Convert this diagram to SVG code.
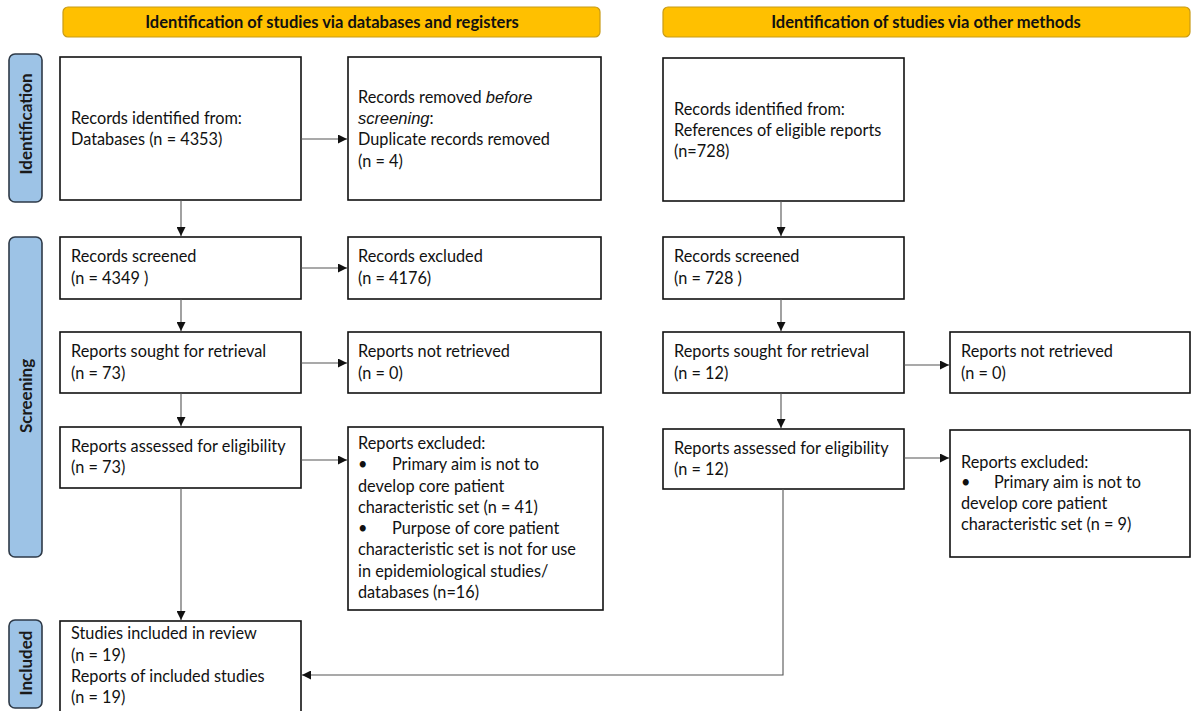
<svg xmlns="http://www.w3.org/2000/svg" width="1191" height="711" viewBox="0 0 1191 711">
<defs>
<style>
.hdr{fill:#FFC000;stroke:#C89B16;stroke-width:1.2}
.hdrt{font-family:Lato,"Open Sans",sans-serif;font-weight:bold;font-size:16.5px;fill:#111;text-anchor:middle}
.side{fill:#9DC3E6;stroke:#2E3A48;stroke-width:1.6}
.sidet{font-family:Lato,"Open Sans",sans-serif;font-weight:bold;font-size:17px;fill:#1a1a1a;text-anchor:middle}
.box{fill:#fff;stroke:#111;stroke-width:1.6}
.t{font-family:Lato,"Open Sans",sans-serif;font-size:16.3px;fill:#111}
.it{font-family:"Liberation Sans",Arial,sans-serif;font-style:italic;font-size:16.5px}
.c{fill:none;stroke:#555;stroke-width:1.1}
</style>
<marker id="ah" viewBox="0 0 10 10" refX="10" refY="5" markerWidth="9" markerHeight="9" markerUnits="userSpaceOnUse" orient="auto">
<path d="M0,0 L10,5 L0,10 z" fill="#111"/>
</marker>
</defs>

<g id="header-left"><rect class="hdr" x="63" y="7" width="537" height="30" rx="5"/><text class="hdrt" x="332" y="27.5">Identification of studies via databases and registers</text></g>
<g id="header-right"><rect class="hdr" x="663" y="7" width="527" height="30" rx="5"/><text class="hdrt" x="926" y="27.5">Identification of studies via other methods</text></g>

<g id="side-identification"><rect class="side" x="9" y="54" width="33" height="148" rx="6"/><text class="sidet" transform="translate(31.5,124) rotate(-90)">Identification</text></g>
<g id="side-screening"><rect class="side" x="9" y="237" width="33" height="320" rx="6"/><text class="sidet" transform="translate(31.5,396) rotate(-90)">Screening</text></g>
<g id="side-included"><rect class="side" x="9" y="620" width="33" height="88" rx="6"/><text class="sidet" transform="translate(31.5,663) rotate(-90)">Included</text></g>

<g id="db-identified"><rect class="box" x="60" y="57" width="241" height="143"/><text class="t" x="71"><tspan x="71" y="124">Records identified from:</tspan><tspan x="71" y="145">Databases (n = 4353)</tspan></text></g>
<g id="db-removed"><rect class="box" x="348" y="57" width="253" height="143"/><text class="t"><tspan x="358" y="103">Records removed <tspan class="it">before</tspan></tspan><tspan x="358" y="124"><tspan class="it">screening</tspan>:</tspan><tspan x="358" y="145">Duplicate records removed</tspan><tspan x="358" y="167">(n = 4)</tspan></text></g>
<g id="db-screened"><rect class="box" x="60" y="237" width="241" height="62"/><text class="t"><tspan x="71" y="262">Records screened</tspan><tspan x="71" y="284">(n = 4349 )</tspan></text></g>
<g id="db-excluded"><rect class="box" x="348" y="237" width="253" height="62"/><text class="t"><tspan x="358" y="262">Records excluded</tspan><tspan x="358" y="284">(n = 4176)</tspan></text></g>
<g id="db-sought"><rect class="box" x="60" y="332" width="241" height="61"/><text class="t"><tspan x="71" y="357">Reports sought for retrieval</tspan><tspan x="71" y="379">(n = 73)</tspan></text></g>
<g id="db-notretrieved"><rect class="box" x="348" y="332" width="253" height="61"/><text class="t"><tspan x="358" y="357">Reports not retrieved</tspan><tspan x="358" y="379">(n = 0)</tspan></text></g>
<g id="db-assessed"><rect class="box" x="60" y="427" width="241" height="61"/><text class="t"><tspan x="71" y="452">Reports assessed for eligibility</tspan><tspan x="71" y="473">(n = 73)</tspan></text></g>
<g id="db-reports-excluded"><rect class="box" x="348" y="427" width="255" height="183"/><text class="t"><tspan x="358" y="449">Reports excluded:</tspan><tspan x="358" y="470">•</tspan><tspan x="392" y="470">Primary aim is not to</tspan><tspan x="358" y="492">develop core patient</tspan><tspan x="358" y="513">characteristic set (n = 41)</tspan><tspan x="358" y="534">•</tspan><tspan x="392" y="534">Purpose of core patient</tspan><tspan x="358" y="555">characteristic set is not for use</tspan><tspan x="358" y="577">in epidemiological studies/</tspan><tspan x="358" y="598">databases (n=16)</tspan></text></g>
<g id="included"><rect class="box" x="60" y="621" width="241" height="95"/><text class="t"><tspan x="71" y="639">Studies included in review</tspan><tspan x="71" y="661">(n = 19)</tspan><tspan x="71" y="682">Reports of included studies</tspan><tspan x="71" y="703">(n = 19)</tspan></text></g>

<g id="om-identified"><rect class="box" x="663" y="58" width="241" height="143"/><text class="t"><tspan x="674" y="115">Records identified from:</tspan><tspan x="674" y="136">References of eligible reports</tspan><tspan x="674" y="157">(n=728)</tspan></text></g>
<g id="om-screened"><rect class="box" x="663" y="237" width="241" height="62"/><text class="t"><tspan x="674" y="262">Records screened</tspan><tspan x="674" y="284">(n = 728 )</tspan></text></g>
<g id="om-sought"><rect class="box" x="663" y="332" width="241" height="61"/><text class="t"><tspan x="674" y="357">Reports sought for retrieval</tspan><tspan x="674" y="379">(n = 12)</tspan></text></g>
<g id="om-notretrieved"><rect class="box" x="950" y="332" width="240" height="61"/><text class="t"><tspan x="961" y="357">Reports not retrieved</tspan><tspan x="961" y="379">(n = 0)</tspan></text></g>
<g id="om-assessed"><rect class="box" x="663" y="429" width="241" height="60"/><text class="t"><tspan x="674" y="454">Reports assessed for eligibility</tspan><tspan x="674" y="475">(n = 12)</tspan></text></g>
<g id="om-reports-excluded"><rect class="box" x="950" y="430" width="240" height="127"/><text class="t"><tspan x="961" y="468">Reports excluded:</tspan><tspan x="961" y="488">•</tspan><tspan x="994" y="488">Primary aim is not to</tspan><tspan x="961" y="509">develop core patient</tspan><tspan x="961" y="530">characteristic set (n = 9)</tspan></text></g>

<g id="connectors">
<line class="c" x1="301" y1="139" x2="347" y2="139" marker-end="url(#ah)"/>
<line class="c" x1="181" y1="200" x2="181" y2="236" marker-end="url(#ah)"/>
<line class="c" x1="301" y1="268" x2="347" y2="268" marker-end="url(#ah)"/>
<line class="c" x1="181" y1="299" x2="181" y2="331" marker-end="url(#ah)"/>
<line class="c" x1="301" y1="363" x2="347" y2="363" marker-end="url(#ah)"/>
<line class="c" x1="181" y1="393" x2="181" y2="426" marker-end="url(#ah)"/>
<line class="c" x1="301" y1="460" x2="347" y2="460" marker-end="url(#ah)"/>
<line class="c" x1="181" y1="488" x2="181" y2="620" marker-end="url(#ah)"/>
<line class="c" x1="781" y1="201" x2="781" y2="236" marker-end="url(#ah)"/>
<line class="c" x1="781" y1="299" x2="781" y2="331" marker-end="url(#ah)"/>
<line class="c" x1="904" y1="365" x2="949" y2="365" marker-end="url(#ah)"/>
<line class="c" x1="781" y1="393" x2="781" y2="428" marker-end="url(#ah)"/>
<line class="c" x1="904" y1="458" x2="949" y2="458" marker-end="url(#ah)"/>
<polyline class="c" points="783,489 783,675 302,675" marker-end="url(#ah)"/>
</g>
</svg>
